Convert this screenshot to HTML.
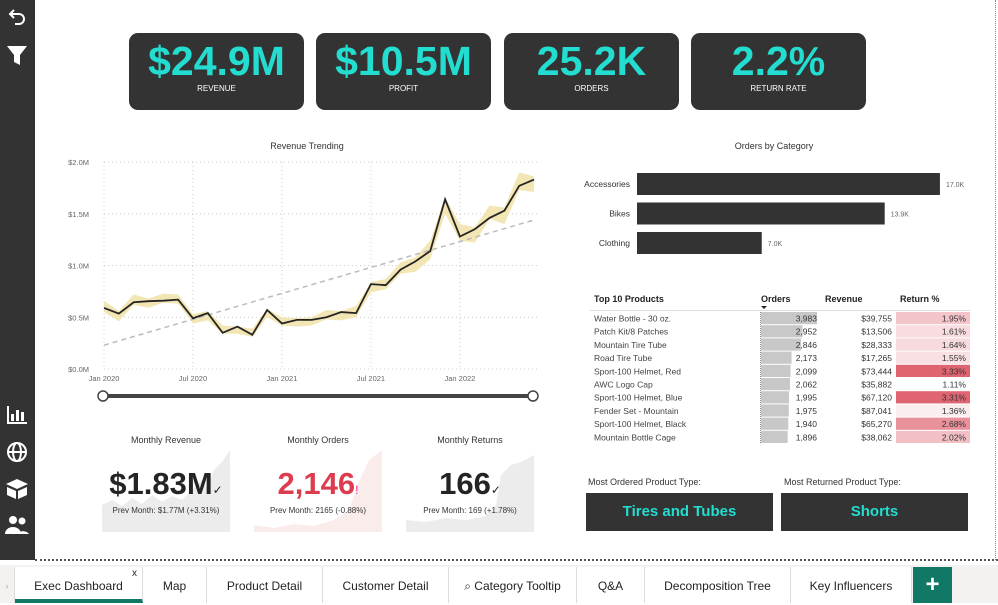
<!DOCTYPE html>
<html><head><meta charset="utf-8">
<style>
*{box-sizing:border-box;margin:0;padding:0}
body{width:998px;height:603px;overflow:hidden;background:#fff;font-family:"Liberation Sans",sans-serif;position:relative;color:#333}
.abs{position:absolute}
.side{left:0;top:0;width:35px;height:560px;background:#333}
.kpi{top:33px;width:175px;height:77px;background:#333;border-radius:9px;text-align:center;color:#fff}
.kpi .v{font-size:41px;font-weight:bold;color:#22ddd0;margin-top:6px;line-height:44px}
.kpi .l{font-size:8px;margin-top:1px}
.ttl{font-size:9px;color:#333;text-align:center}
.card{top:450px;width:128px;height:82px;overflow:hidden}
.card .big{position:absolute;left:0;right:0;top:16px;text-align:center;font-size:31px;font-weight:bold;color:#252423}
.card .sub{position:absolute;left:0;right:0;top:56px;text-align:center;font-size:8px;color:#333}
.box{top:493px;width:187px;height:38px;background:#333;color:#22ddd0;font-weight:bold;font-size:15px;text-align:center;line-height:38px}
.tab{top:567px;height:36px;font-size:12px;color:#252423;text-align:center;line-height:38px;border-right:1px solid #ddd}
</style></head><body>
<div class="abs side">
<svg width="35" height="560">
<g fill="none" stroke="#fff" stroke-width="2"><path d="M11 14 h8 a5 5 0 0 1 0 10 h-4"/><path d="M14 10 l-4 4 l4 4"/></g>
<path d="M7 46 h20 l-7 9 v10 l-6 -3 v-7z" fill="#fff"/>
<g fill="#fff"><rect x="7" y="406" width="2" height="18"/><rect x="7" y="422" width="20" height="2"/><rect x="11" y="414" width="3" height="7"/><rect x="16" y="410" width="3" height="11"/><rect x="21" y="412" width="3" height="9"/></g>
<g fill="none" stroke="#fff" stroke-width="2"><circle cx="17" cy="452" r="9"/><ellipse cx="17" cy="452" rx="4" ry="9"/><line x1="8" y1="452" x2="26" y2="452"/></g>
<g fill="#fff"><path d="M6 484 l11 -5 l11 5 l-11 5z"/><path d="M7 487 l9 4 v8 l-9 -4z"/><path d="M27 487 l-9 4 v8 l9 -4z"/></g>
<g fill="#fff"><circle cx="13" cy="520" r="4"/><circle cx="22" cy="521" r="3.5"/><path d="M5 534 a8 7 0 0 1 16 0z"/><path d="M17 534 a7 6 0 0 1 12 0z"/></g>
</svg></div>

<div class="abs kpi" style="left:129px"><div class="v">$24.9M</div><div class="l">REVENUE</div></div>
<div class="abs kpi" style="left:316px"><div class="v">$10.5M</div><div class="l">PROFIT</div></div>
<div class="abs kpi" style="left:504px"><div class="v">25.2K</div><div class="l">ORDERS</div></div>
<div class="abs kpi" style="left:691px"><div class="v">2.2%</div><div class="l">RETURN RATE</div></div>

<div class="abs ttl" style="left:207px;top:141px;width:200px">Revenue Trending</div>
<svg class="abs" style="left:0;top:0" width="560" height="410" id="rev"></svg>

<div class="abs ttl" style="left:674px;top:141px;width:200px">Orders by Category</div>
<svg class="abs" style="left:0;top:0" width="998" height="270" id="cat"></svg>

<svg class="abs" style="left:0;top:0" width="998" height="450" id="tbl"></svg>

<div class="abs ttl" style="left:102px;top:435px;width:128px">Monthly Revenue</div>
<div class="abs ttl" style="left:254px;top:435px;width:128px">Monthly Orders</div>
<div class="abs ttl" style="left:406px;top:435px;width:128px">Monthly Returns</div>
<div class="abs card" style="left:102px"><svg class="abs" style="left:0;top:0" width="128" height="82"><path d="M0 82 V55 L10 50 L20 56 L30 48 L40 54 L50 45 L60 52 L70 46 L80 50 L90 40 L100 30 L105 38 L112 20 L120 12 L128 0 V82Z" fill="#ececec"/></svg><div class="big">$1.83M<span style="font-size:12px;font-weight:normal">✓</span></div><div class="sub">Prev Month: $1.77M (+3.31%)</div></div>
<div class="abs card" style="left:254px"><svg class="abs" style="left:0;top:0" width="128" height="82"><path d="M0 82 V75 L20 78 L40 74 L60 76 L80 70 L95 60 L100 45 L108 25 L115 10 L128 0 V82Z" fill="#fbecec"/></svg><div class="big" style="color:#dc3c4d">2,146<span style="font-size:12px;font-weight:normal;color:#e38">!</span></div><div class="sub">Prev Month: 2165 (-0.88%)</div></div>
<div class="abs card" style="left:406px"><svg class="abs" style="left:0;top:0" width="128" height="82"><path d="M0 82 V70 L20 72 L40 68 L60 70 L80 66 L90 55 L95 25 L105 15 L115 12 L128 5 V82Z" fill="#ececec"/></svg><div class="big">166<span style="font-size:12px;font-weight:normal">✓</span></div><div class="sub">Prev Month: 169 (+1.78%)</div></div>

<div class="abs" style="left:588px;top:477px;font-size:9px">Most Ordered Product Type:</div>
<div class="abs box" style="left:586px">Tires and Tubes</div>
<div class="abs" style="left:784px;top:477px;font-size:9px">Most Returned Product Type:</div>
<div class="abs box" style="left:781px">Shorts</div>

<div class="abs" style="left:35px;top:559px;width:963px;border-top:2px dotted #555"></div>
<div class="abs" style="left:995px;top:0;height:560px;border-left:1px dotted #888"></div>

<div class="abs" style="left:0;top:565px;width:998px;height:38px;background:#f3f2f1"></div>
<div class="abs tab" style="left:0;width:15px;color:#aaa;font-size:9px">›</div>
<div class="abs tab" style="left:15px;width:128px;background:#fff;border-bottom:4px solid #117865">Exec Dashboard<span style="position:absolute;right:5px;top:-12px;font-size:10px">x</span></div>
<div class="abs tab" style="left:143px;width:64px;background:#fff">Map</div>
<div class="abs tab" style="left:207px;width:116px;background:#fff">Product Detail</div>
<div class="abs tab" style="left:323px;width:126px;background:#fff">Customer Detail</div>
<div class="abs tab" style="left:449px;width:128px;background:#fff">⌕ Category Tooltip</div>
<div class="abs tab" style="left:577px;width:68px;background:#fff">Q&amp;A</div>
<div class="abs tab" style="left:645px;width:146px;background:#fff">Decomposition Tree</div>
<div class="abs tab" style="left:791px;width:121px;background:#fff">Key Influencers</div>
<div class="abs" style="left:913px;top:567px;width:39px;height:36px;background:#117865;color:#fff;font-size:24px;font-weight:bold;text-align:center;line-height:36px">+</div>

<script>
const revValues=[0.59,0.535,0.645,0.655,0.66,0.67,0.49,0.54,0.35,0.41,0.33,0.57,0.44,0.475,0.475,0.50,0.55,0.54,0.82,0.81,0.96,1.04,1.14,1.64,1.28,1.35,1.46,1.53,1.77,1.83];
const revUpper=[0.66,0.56,0.72,0.68,0.73,0.72,0.53,0.56,0.42,0.41,0.39,0.58,0.50,0.49,0.50,0.57,0.56,0.61,0.84,0.87,1.03,1.08,1.24,1.66,1.40,1.37,1.58,1.56,1.90,1.86];
const revLower=[0.55,0.46,0.62,0.59,0.64,0.63,0.44,0.47,0.34,0.34,0.31,0.50,0.42,0.41,0.42,0.48,0.47,0.50,0.74,0.77,0.92,0.94,1.06,1.50,1.24,1.22,1.45,1.40,1.73,1.71];
const trendStart=0.23, trendEnd=1.44;
const yTicks=[0,0.5,1.0,1.5,2.0];
const yTickLabels=["$0.0M","$0.5M","$1.0M","$1.5M","$2.0M"];
const xTickIdx=[0,6,12,18,24];
const xTickLabels=["Jan 2020","Jul 2020","Jan 2021","Jul 2021","Jan 2022"];
const catNames=["Accessories","Bikes","Clothing"];
const catValues=[17.0,13.9,7.0];
const catLabels=["17.0K","13.9K","7.0K"];
const prodNames=["Water Bottle - 30 oz.","Patch Kit/8 Patches","Mountain Tire Tube","Road Tire Tube","Sport-100 Helmet, Red","AWC Logo Cap","Sport-100 Helmet, Blue","Fender Set - Mountain","Sport-100 Helmet, Black","Mountain Bottle Cage"];
const prodOrders=[3983,2952,2846,2173,2099,2062,1995,1975,1940,1896];
const prodRevenue=[39755,13506,28333,17265,73444,35882,67120,87041,65270,38062];
const prodReturn=[1.95,1.61,1.64,1.55,3.33,1.11,3.31,1.36,2.68,2.02];

const NS="http://www.w3.org/2000/svg";
function mk(parent,tag,attrs,name){const e=document.createElementNS(NS,tag);for(const k in attrs)e.setAttribute(k,attrs[k]);


parent.appendChild(e);return e;}

const rev=document.getElementById('rev');
const xr=i=>104+i*14.83, yr=v=>369-v*103.5;
yTicks.forEach((t,k)=>{
 mk(rev,'line',{x1:104,x2:540,y1:yr(t),y2:yr(t),stroke:'#ccc','stroke-dasharray':'1 3'},'y-gridline');
 const tx=mk(rev,'text',{x:89,y:yr(t)+3,'font-size':7.5,fill:'#666','text-anchor':'end'},'y-tick-label');tx.textContent=yTickLabels[k];
});
xTickIdx.forEach((i,k)=>{
 mk(rev,'line',{x1:xr(i),x2:xr(i),y1:162,y2:369,stroke:'#ccc','stroke-dasharray':'1 3'},'x-gridline');
 const tx=mk(rev,'text',{x:xr(i),y:381,'font-size':7.5,fill:'#666','text-anchor':'middle'},'x-tick-label');tx.textContent=xTickLabels[k];
});
let band=revUpper.map((v,i)=>xr(i)+','+yr(v)).join(' ')+' '+revLower.map((v,i)=>xr(i)+','+yr(v)).reverse().join(' ');
mk(rev,'polygon',{points:band,fill:'#f3e6b5'},'forecast-band');
const n=revValues.length-1;
mk(rev,'line',{x1:xr(0),y1:yr(trendStart),x2:xr(n),y2:yr(trendEnd),stroke:'#bbb','stroke-width':1.5,'stroke-dasharray':'5 4'},'trend-line');
mk(rev,'polyline',{points:revValues.map((v,i)=>xr(i)+','+yr(v)).join(' '),fill:'none',stroke:'#252423','stroke-width':1.8},'revenue-line');
mk(rev,'line',{x1:103,x2:533,y1:396,y2:396,stroke:'#444','stroke-width':4},'date-slider-track');
const h1=mk(rev,'circle',{cx:103,cy:396,r:5,fill:'#fff',stroke:'#444','stroke-width':1.5},'date-slider-start');

const h2=mk(rev,'circle',{cx:533,cy:396,r:5,fill:'#fff',stroke:'#444','stroke-width':1.5},'date-slider-end');


const cat=document.getElementById('cat');
const xc=v=>637+v*17.82;
catValues.forEach((v,i)=>{
 const y=173+i*29.5;
 mk(cat,'rect',{x:637,y:y,width:xc(v)-637,height:22,fill:'#333'},'category-bar');
 const l=mk(cat,'text',{x:630,y:y+14,'font-size':8.5,fill:'#333','text-anchor':'end'},'category-label');l.textContent=catNames[i];
 const d=mk(cat,'text',{x:xc(v)+6,y:y+14,'font-size':7,fill:'#666'},'category-value');d.textContent=catLabels[i];
});

const tb=document.getElementById('tbl');
[['Top 10 Products',594,'start'],['Orders',761,'start'],['Revenue',825,'start'],['Return %',900,'start']].forEach(h=>{
 const t=mk(tb,'text',{x:h[1],y:302,'font-size':9,'font-weight':'bold',fill:'#222','text-anchor':h[2]},'table-header');t.textContent=h[0];});
mk(tb,'path',{d:'M761 306 h6 l-3 3z',fill:'#222'},'sort-indicator');
mk(tb,'line',{x1:590,x2:970,y1:310.5,y2:310.5,stroke:'#ddd'},'header-divider');
mk(tb,'line',{x1:760.5,x2:760.5,y1:312,y2:443,stroke:'#888','stroke-dasharray':'1 1'},'orders-column-divider');
const maxO=Math.max(...prodOrders), minR=Math.min(...prodReturn), maxR=Math.max(...prodReturn);
prodNames.forEach((p,i)=>{
 const y=312+i*13.2;
 mk(tb,'rect',{x:761,y:y,width:(prodOrders[i]/maxO)*56,height:12.2,fill:'#c8c8c8'},'orders-bar');
 const f=(prodReturn[i]-minR)/(maxR-minR);
 const r=Math.round(255-(255-222)*f), g=Math.round(255-(255-100)*f), b=Math.round(255-(255-112)*f);
 mk(tb,'rect',{x:896,y:y,width:74,height:12.2,fill:`rgb(${r},${g},${b})`},'return-cell');
 const a=mk(tb,'text',{x:594,y:y+9.5,'font-size':8.5,fill:'#444'},'product-name');a.textContent=p;
 const o=mk(tb,'text',{x:817,y:y+9.5,'font-size':8.5,fill:'#333','text-anchor':'end'},'orders-value');o.textContent=prodOrders[i].toLocaleString('en-US');
 const rv=mk(tb,'text',{x:892,y:y+9.5,'font-size':8.5,fill:'#333','text-anchor':'end'},'revenue-value');rv.textContent='$'+prodRevenue[i].toLocaleString('en-US');
 const rt=mk(tb,'text',{x:966,y:y+9.5,'font-size':8.5,fill:'#333','text-anchor':'end'},'return-value');rt.textContent=prodReturn[i].toFixed(2)+'%';
});
</script>
</body></html>
